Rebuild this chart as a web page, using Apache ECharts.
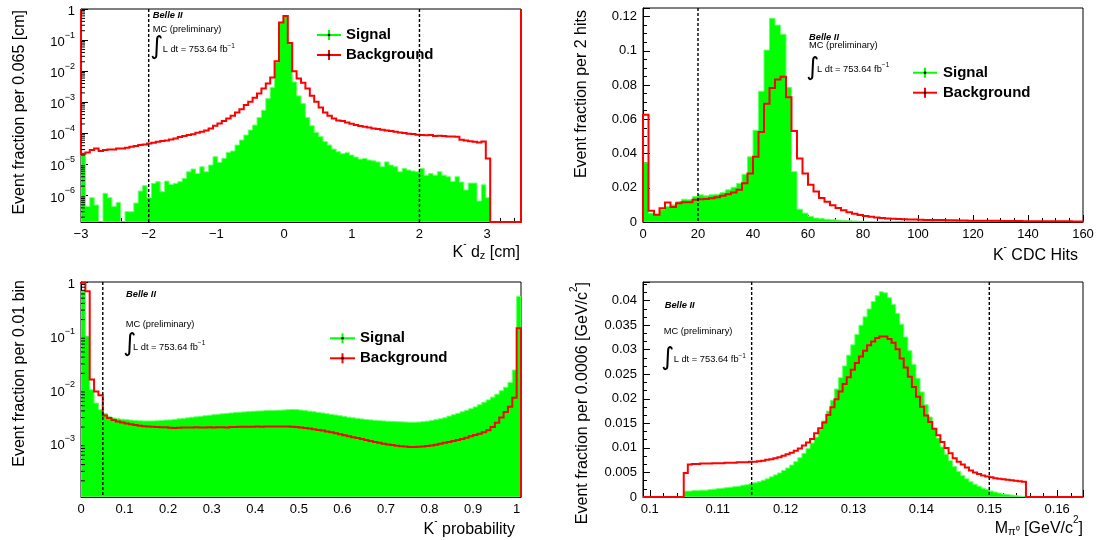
<!DOCTYPE html>
<html><head><meta charset="utf-8">
<script src="https://cdn.jsdelivr.net/npm/echarts@6/dist/echarts.min.js"></script>
<style>html,body{margin:0;padding:0;background:#fff}#c{width:1099px;height:540px}</style>
</head><body><div id="c"></div>
<script>
// ---------------- DATA ----------------
// Panel 1: K- dz, 100 bins of 0.065 cm from -3
const dzStart = -3, dzBinWidth = 0.065;
const dzSignal = [
 2.0e-5, 4.4e-7, 8.5e-7, 4.9e-7, 0, 1.17e-6, 8.5e-7, 4.4e-7, 5.9e-7, 0,
 3.0e-7, 3.0e-7, 5.7e-7, 1.39e-6, 2.06e-6, 8.5e-7, 2.45e-6, 2.77e-6, 1.32e-6, 2.9e-6,
 2.27e-6, 2.45e-6, 2.77e-6, 3.55e-6, 5.8e-6, 7.1e-6, 5.1e-6, 8.4e-6, 5.8e-6, 9.5e-6,
 1.77e-5, 1.16e-5, 1.56e-5, 2.43e-5, 2.69e-5, 4.19e-5, 6.07e-5, 8.8e-5, 1.27e-4, 1.84e-4,
 3.2e-4, 5.5e-4, 1.3e-3, 3.0e-3, 0.019, 0.36, 0.6, 0.075, 4.5e-3, 1.6e-3,
 9e-4, 3.2e-4, 1.75e-4, 1.07e-4, 7.8e-5, 5.4e-5, 4.2e-5, 3.1e-5, 2.55e-5, 2.2e-5,
 2.37e-5, 2.0e-5, 1.72e-5, 1.48e-5, 1.56e-5, 1.38e-5, 1.3e-5, 1.2e-5, 8.4e-6, 1.2e-5,
 9.5e-6, 8.4e-6, 5.8e-6, 7.4e-6, 6.6e-6, 6.1e-6, 5.8e-6, 7.4e-6, 4.5e-6, 5.1e-6,
 4.5e-6, 5.8e-6, 4.5e-6, 4.0e-6, 2.8e-6, 4.0e-6, 2.7e-6, 1.5e-6, 2.5e-6, 2.5e-6,
 6.6e-7, 2.2e-6, 8.5e-7, 0, 0, 0, 0, 0, 0, 0];
const dzBackground = [
 2.2e-5, 2.43e-5, 2.89e-5, 3.27e-5, 2.68e-5, 2.89e-5, 3.03e-5, 3.03e-5, 3.27e-5, 3.27e-5,
 3.43e-5, 3.7e-5, 3.89e-5, 4.19e-5, 4.4e-5, 4.73e-5, 4.97e-5, 5.36e-5, 5.63e-5, 5.9e-5,
 6.37e-5, 6.86e-5, 7.57e-5, 8.15e-5, 8.77e-5, 9.4e-5, 1.04e-4, 1.12e-4, 1.24e-4, 1.44e-4,
 1.75e-4, 2.08e-4, 2.47e-4, 3.01e-4, 3.67e-4, 4.7e-4, 6.0e-4, 8.1e-4, 1.04e-3, 1.39e-3,
 1.92e-3, 2.78e-3, 4.03e-3, 6.3e-3, 0.021, 0.37, 0.59, 0.08, 0.01, 5.8e-3,
 4.2e-3, 2.78e-3, 1.61e-3, 1.03e-3, 6.8e-4, 4.7e-4, 3.67e-4, 3.0e-4, 2.6e-4, 2.47e-4,
 2.24e-4, 2.03e-4, 1.84e-4, 1.71e-4, 1.63e-4, 1.55e-4, 1.44e-4, 1.37e-4, 1.30e-4, 1.24e-4,
 1.18e-4, 1.12e-4, 1.07e-4, 1.02e-4, 9.7e-5, 9.5e-5, 9.0e-5, 8.8e-5, 8.6e-5, 8.8e-5,
 8.15e-5, 8.3e-5, 8.15e-5, 7.95e-5, 7.95e-5, 7.75e-5, 6.2e-5, 5.9e-5, 5.6e-5, 5.4e-5,
 5.1e-5, 5.5e-5, 1.56e-5, 0, 0, 0, 0, 0, 0, 0];
const dzCuts = [-2, 2];

// Panel 2: K- CDC hits, 80 bins of 2 hits from 0
const cdcStart = 0, cdcBinWidth = 2;
const cdcSignal = [
 0.0346, 0.0052, 0.0043, 0.0072, 0.0091, 0.0100, 0.0120, 0.0133, 0.0130, 0.0149,
 0.0159, 0.0153, 0.0159, 0.0162, 0.0172, 0.0188, 0.0203, 0.0226, 0.0279, 0.0381,
 0.0536, 0.0764, 0.1004, 0.1190, 0.1150, 0.1097, 0.0787, 0.0294, 0.0075, 0.0052,
 0.0033, 0.0023, 0.0019, 0.0016, 0.0013, 0.0011, 0.0009, 0.0008, 0.0006, 0.0005,
 0.0004, 0.0003, 0.00025, 0.0002, 0.00015, 0.00012, 0.0001, 0.00008, 0.00006, 0.00005,
 0.00004, 0.00003, 0.00003, 0.00002, 0.00002, 0.00002, 0.00001, 0.00001, 0.00001, 0.00001,
 0, 0, 0, 0, 0, 0, 0, 0, 0, 0,
 0, 0, 0, 0, 0, 0, 0, 0, 0, 0];
const cdcBackground = [
 0.0627, 0.0066, 0.0043, 0.0081, 0.0114, 0.0087, 0.0110, 0.0116, 0.0116, 0.0130,
 0.0133, 0.0135, 0.0139, 0.0145, 0.0153, 0.0162, 0.0172, 0.0188, 0.0226, 0.0284,
 0.0381, 0.0526, 0.0690, 0.0783, 0.0832, 0.0849, 0.0729, 0.0532, 0.0371, 0.0284,
 0.0217, 0.0178, 0.0140, 0.0118, 0.0098, 0.0082, 0.0068, 0.0057, 0.0048, 0.0041,
 0.0035, 0.0030, 0.0026, 0.0023, 0.0021, 0.0019, 0.0017, 0.0016, 0.0015, 0.0014,
 0.0013, 0.0012, 0.0012, 0.0011, 0.0011, 0.0010, 0.0010, 0.0009, 0.0009, 0.0008,
 0.0008, 0.0008, 0.0007, 0.0007, 0.0007, 0.0006, 0.0006, 0.0006, 0.0006, 0.0005,
 0.0005, 0.0005, 0.0005, 0.0004, 0.0004, 0.0004, 0.0004, 0.0004, 0.0003, 0.0003];
const cdcCuts = [20];

// Panel 3: K- probability, 101 bins of 0.01 from 0
const probStart = 0, probBinWidth = 0.01;
const probSignal = [
 0.68, 0.098, 0.0099, 0.0056, 0.0042, 0.0036, 0.0031, 0.00295, 0.00285, 0.0028,
 0.00275, 0.0027, 0.00265, 0.00262, 0.0026, 0.0026, 0.0026, 0.00262, 0.00265, 0.0027,
 0.00272, 0.00278, 0.00285, 0.0029, 0.00297, 0.00305, 0.0031, 0.00317, 0.00325, 0.00332,
 0.0034, 0.00347, 0.00353, 0.0036, 0.00366, 0.00372, 0.00378, 0.00383, 0.00388, 0.00393,
 0.00397, 0.0040, 0.00405, 0.00408, 0.0041, 0.00412, 0.00415, 0.0042, 0.00425, 0.00422,
 0.00415, 0.00405, 0.00395, 0.00385, 0.00375, 0.00365, 0.00355, 0.00345, 0.00335, 0.00325,
 0.00315, 0.00305, 0.00297, 0.0029, 0.00283, 0.00277, 0.00272, 0.00267, 0.00263, 0.0026,
 0.00257, 0.00255, 0.00252, 0.0025, 0.00248, 0.00247, 0.00247, 0.00248, 0.00252, 0.00258,
 0.00265, 0.00275, 0.00285, 0.00297, 0.0032, 0.0034, 0.0036, 0.00385, 0.0041, 0.0044,
 0.00475, 0.0052, 0.0058, 0.0064, 0.0072, 0.0082, 0.0095, 0.011, 0.0135, 0.023,
 0.54];
const probBackground = [
 0.97, 0.67, 0.0153, 0.0092, 0.0078, 0.0033, 0.00295, 0.0027, 0.00255, 0.00242,
 0.00232, 0.00225, 0.00218, 0.00212, 0.00208, 0.00205, 0.00202, 0.0020, 0.00198, 0.00198,
 0.00195, 0.00193, 0.00195, 0.00197, 0.00196, 0.00197, 0.00198, 0.00197, 0.00196, 0.00198,
 0.00197, 0.00199, 0.00198, 0.00197, 0.0020, 0.00201, 0.00202, 0.00203, 0.00202, 0.00203,
 0.00204, 0.00203, 0.00204, 0.00205, 0.00206, 0.00206, 0.00205, 0.00205, 0.00203, 0.0020,
 0.00197, 0.00193, 0.00188, 0.00183, 0.00177, 0.00172, 0.00166, 0.0016, 0.00153, 0.00147,
 0.00141, 0.00135, 0.0013, 0.00125, 0.0012, 0.00115, 0.0011, 0.00106, 0.00102, 0.00098,
 0.00095, 0.00093, 0.0009, 0.00088, 0.00087, 0.00085, 0.00085, 0.00086, 0.00087, 0.00089,
 0.00091, 0.00094, 0.00098, 0.00102, 0.00106, 0.0011, 0.00115, 0.0012, 0.00127, 0.00135,
 0.00142, 0.0015, 0.0016, 0.00175, 0.0020, 0.0024, 0.0030, 0.0038, 0.0048, 0.0070,
 0.138];
const probCuts = [0.05];

// Panel 4: M(pi0), 108 bins of 0.0006 GeV/c^2 from 0.099
const mpiStart = 0.099, mpiBinWidth = 0.0006;
const mpiSignal = [
 0, 0, 0, 0, 0, 0, 0, 0, 0, 0,
 0.0012, 0.0012, 0.0013, 0.0013, 0.0014, 0.0014, 0.0015, 0.0016, 0.0017, 0.0018,
 0.0019, 0.0020, 0.0021, 0.0022, 0.0024, 0.0025, 0.0027, 0.0029, 0.0031, 0.0034,
 0.0037, 0.0041, 0.0045, 0.0049, 0.0054, 0.0059, 0.0065, 0.0072, 0.0080, 0.0089,
 0.0099, 0.0110, 0.0122, 0.0137, 0.0155, 0.0175, 0.0197, 0.0220, 0.0243, 0.0267,
 0.0289, 0.0310, 0.0331, 0.0350, 0.0367, 0.0383, 0.0398, 0.0410, 0.0418, 0.0416,
 0.0406, 0.0392, 0.0374, 0.0352, 0.0326, 0.0298, 0.0270, 0.0242, 0.0214, 0.0188,
 0.0163, 0.0140, 0.0120, 0.0102, 0.0087, 0.0074, 0.0062, 0.0052, 0.0044, 0.0037,
 0.0031, 0.0026, 0.0022, 0.0018, 0.0015, 0.0012, 0.0010, 0.0008, 0.0006, 0.0005,
 0.0004, 0.0003, 0.0002, 0.0001, 0, 0, 0, 0, 0, 0,
 0, 0, 0, 0, 0, 0, 0, 0];
const mpiBackground = [
 0, 0, 0, 0, 0, 0, 0, 0, 0, 0,
 0.0049, 0.0066, 0.0067, 0.0067, 0.0068, 0.0068, 0.0068, 0.0069, 0.0069, 0.0069,
 0.0070, 0.0070, 0.0070, 0.0071, 0.0071, 0.0071, 0.0072, 0.0072, 0.0073, 0.0074,
 0.0076, 0.0077, 0.0079, 0.0081, 0.0084, 0.0087, 0.0090, 0.0094, 0.0099, 0.0105,
 0.0111, 0.0118, 0.0130, 0.0140, 0.0152, 0.0167, 0.0183, 0.0199, 0.0215, 0.0230,
 0.0244, 0.0259, 0.0273, 0.0286, 0.0298, 0.0309, 0.0317, 0.0324, 0.0327, 0.0327,
 0.0322, 0.0314, 0.0301, 0.0282, 0.0264, 0.0245, 0.0224, 0.0204, 0.0184, 0.0166,
 0.0153, 0.0139, 0.0126, 0.0112, 0.0100, 0.0089, 0.0079, 0.0072, 0.0066, 0.0060,
 0.0054, 0.0050, 0.0047, 0.0044, 0.0042, 0.0040, 0.0038, 0.0037, 0.0036, 0.0035,
 0.0034, 0.0033, 0.0032, 0.0031, 0, 0, 0, 0, 0, 0,
 0, 0, 0, 0, 0, 0, 0, 0];
const mpiCuts = [0.115, 0.15];

// ---------------- STYLE / LAYOUT ----------------
const FONT = '"Liberation Sans", Arial, Helvetica, sans-serif';
const GREEN = '#00ff00', GREEN_EDGE = '#6dff6d', RED = '#ff0000';

const chart = echarts.init(document.getElementById('c'), null, {renderer: 'canvas'});

const grids = [
  {left: 81, top: 9, width: 440, height: 213},
  {left: 643, top: 8, width: 440, height: 214},
  {left: 81, top: 282, width: 440, height: 215},
  {left: 643, top: 282, width: 440, height: 215}
].map(g => Object.assign({show: true, borderColor: '#000', borderWidth: 1, backgroundColor: '#fff'}, g));

const tickLine = {color: '#000', width: 1};
function baseAxis(gi) {
  return {
    gridIndex: gi,
    axisLine: {show: true, onZero: false, lineStyle: tickLine},
    axisTick: {show: true, inside: true, length: 7, lineStyle: tickLine},
    splitLine: {show: false},
    minorSplitLine: {show: false}
  };
}
function linX(gi, min, max, interval, minor, extra) {
  return Object.assign(baseAxis(gi), {
    type: 'value', min, max, interval,
    minorTick: {show: true, splitNumber: minor, length: 4, lineStyle: tickLine},
    axisLabel: Object.assign({color: '#000', fontSize: 13, fontFamily: FONT, margin: 6,
      showMinLabel: true, showMaxLabel: false}, extra || {})
  });
}
function linY(gi, min, max, interval, minor) {
  return Object.assign(baseAxis(gi), {
    type: 'value', min, max, interval,
    minorTick: {show: true, splitNumber: minor, length: 4, lineStyle: tickLine},
    axisLabel: {color: '#000', fontSize: 13, fontFamily: FONT, margin: 6, showMaxLabel: false}
  });
}
const powRich = {
  b: {fontSize: 13, fontFamily: FONT, color: '#000', lineHeight: 18, verticalAlign: 'bottom'},
  s: {fontSize: 9, fontFamily: FONT, color: '#000', lineHeight: 9, verticalAlign: 'top'}
};
function logY(gi, min, max) {
  return Object.assign(baseAxis(gi), {
    type: 'log', logBase: 10, min, max,
    minorTick: {show: false},
    axisLabel: {
      margin: 6, showMinLabel: false, showMaxLabel: true, rich: powRich,
      formatter: v => {
        const e = Math.round(Math.log10(v));
        return e === 0 ? '{b|1}' : '{b|10}{s|\u2212' + (-e) + '}';
      }
    }
  });
}

const xAxes = [
  linX(0, -3, 3.5, 1, 5, {formatter: v => v < 0 ? '\u2212' + (-v) : String(v)}),
  linX(1, 0, 160, 20, 4, {showMaxLabel: true}),
  linX(2, 0, 1.01, 0.1, 3),
  linX(3, 0.099, 0.1638, undefined, 5, {showMinLabel: false})
];
const yAxes = [
  logY(0, 1.4e-7, 1),
  linY(1, 0, 0.125, 0.02, 4),
  logY(2, 1e-4, 1),
  linY(3, 0, 0.0438, 0.005, 3)
];

// ---------------- SERIES BUILDERS ----------------
// Build the step-outline points of a histogram through the axis scales.
function stepPoints(api, cs, start, width, values, yRef, fromTop, toTop) {
  const top = cs.y, bottom = cs.y + cs.height;
  const end = start + values.length * width;
  const yOf = v => v > 0 ? Math.max(top, Math.min(bottom, api.coord([start, v])[1])) : bottom;
  const xOf = x => api.coord([x, yRef])[0];
  const pts = [[xOf(start), fromTop ? top : bottom]];
  values.forEach((v, i) => {
    const y = yOf(v);
    pts.push([xOf(start + i * width), y], [xOf(start + (i + 1) * width), y]);
  });
  pts.push([xOf(end), bottom]);
  if (toTop) pts.push([xOf(end), top]);
  return pts;
}
function fillSeries(gi, start, width, values, yRef) {
  return {
    type: 'custom', xAxisIndex: gi, yAxisIndex: gi, clip: true, silent: true, z: 2,
    encode: {x: 0, y: 1},
    data: [[start, yRef]],
    renderItem(params, api) {
      const pts = stepPoints(api, params.coordSys, start, width, values, yRef, false, false);
      return {type: 'polygon', shape: {points: pts},
              style: {fill: GREEN, stroke: GREEN_EDGE, lineWidth: 1}};
    }
  };
}
function outlineSeries(gi, start, width, values, yRef, fromTop, toTop) {
  return {
    type: 'custom', xAxisIndex: gi, yAxisIndex: gi, clip: false, silent: true, z: 3,
    encode: {x: 0, y: 1},
    data: [[start, yRef]],
    renderItem(params, api) {
      const pts = stepPoints(api, params.coordSys, start, width, values, yRef, fromTop, toTop);
      return {type: 'polyline', shape: {points: pts},
              style: {stroke: RED, lineWidth: 2, fill: null, lineJoin: 'miter'}};
    }
  };
}
function cutSeries(gi, cuts, yRef) {
  return {
    type: 'custom', xAxisIndex: gi, yAxisIndex: gi, silent: true, z: 4,
    encode: {x: 0, y: 1},
    data: cuts.map(c => [c, yRef]),
    renderItem(params, api) {
      const cs = params.coordSys;
      const x = api.coord([api.value(0), yRef])[0];
      return {type: 'line', shape: {x1: x, y1: cs.y, x2: x, y2: cs.y + cs.height},
              style: {stroke: '#000', lineWidth: 1.4, lineDash: [3, 2]}};
    }
  };
}
function logMinorTicks(gi, lo, hi, xRef) {
  const vals = [];
  for (let e = Math.floor(Math.log10(lo)); e < Math.ceil(Math.log10(hi)); e++) {
    for (let m = 2; m <= 9; m++) {
      const v = m * Math.pow(10, e);
      if (v > lo && v < hi) vals.push([xRef, v]);
    }
  }
  return {
    type: 'custom', xAxisIndex: gi, yAxisIndex: gi, silent: true, z: 5,
    encode: {x: 0, y: 1},
    data: vals,
    renderItem(params, api) {
      const cs = params.coordSys;
      const y = api.coord([xRef, api.value(1)])[1];
      return {type: 'line', shape: {x1: cs.x, y1: y, x2: cs.x + 4, y2: y},
              style: {stroke: '#000', lineWidth: 1}};
    }
  };
}

const series = [
  fillSeries(0, dzStart, dzBinWidth, dzSignal, 1),
  outlineSeries(0, dzStart, dzBinWidth, dzBackground, 1, true, true),
  cutSeries(0, dzCuts, 1),
  logMinorTicks(0, 1.4e-7, 1, -3),

  fillSeries(1, cdcStart, cdcBinWidth, cdcSignal, 0),
  outlineSeries(1, cdcStart, cdcBinWidth, cdcBackground, 0, false, false),
  cutSeries(1, cdcCuts, 0),

  fillSeries(2, probStart, probBinWidth, probSignal, 1),
  outlineSeries(2, probStart, probBinWidth, probBackground, 1, true, false),
  cutSeries(2, probCuts, 1),
  logMinorTicks(2, 1e-4, 1, 0),

  fillSeries(3, mpiStart, mpiBinWidth, mpiSignal, 0),
  outlineSeries(3, mpiStart, mpiBinWidth, mpiBackground, 0, false, false),
  cutSeries(3, mpiCuts, 0)
];

// ---------------- TEXT / LEGENDS ----------------
const graphics = [];
function txt(x, y, text, style, extra) {
  graphics.push(Object.assign({type: 'text', x, y, silent: true, z: 100,
    style: Object.assign({text, fill: '#000', fontFamily: FONT, align: 'left', verticalAlign: 'middle'}, style)}, extra || {}));
}
const lumiRich = {
  a: {fontSize: 9.3, fontFamily: FONT, color: '#000', lineHeight: 12, verticalAlign: 'bottom'},
  s: {fontSize: 6.5, fontFamily: FONT, color: '#000', lineHeight: 7, verticalAlign: 'top'}
};
function belle(bx, by, mx, my, ix, iy, lx, ly) {
  txt(bx, by, 'Belle II', {fontSize: 9.3, fontWeight: 'bold', fontStyle: 'italic'});
  txt(mx, my, 'MC (preliminary)', {fontSize: 9.3});
  txt(ix, iy, '\u222B', {fontSize: 25, fontFamily: '"DejaVu Sans", ' + FONT});
  txt(lx, ly, '{a|L dt = 753.64 fb}{s|\u22121}', {rich: lumiRich});
}
belle(152.7, 15.7, 152.7, 29.7, 150, 47, 162.7, 48.3);
belle(809, 37.5, 809, 45.5, 806, 68, 817, 67.5);
belle(126, 294, 125.7, 324, 123, 344.5, 133, 346);
belle(664.7, 305, 663.7, 331.7, 661, 358, 673.7, 358.3);

function legend(x1, x2, xt, y1, y2) {
  [[y1, GREEN, 'Signal'], [y2, RED, 'Background']].forEach(([y, c, t]) => {
    const xc = (x1 + x2) / 2;
    graphics.push({type: 'line', silent: true, z: 100, shape: {x1, y1: y, x2, y2: y}, style: {stroke: c, lineWidth: 2}});
    graphics.push({type: 'line', silent: true, z: 100, shape: {x1: xc, y1: y - 5, x2: xc, y2: y + 5}, style: {stroke: c, lineWidth: 2}});
    graphics.push({type: 'circle', silent: true, z: 101, shape: {cx: xc, cy: y, r: 1.3}, style: {fill: '#000'}});
    txt(xt, y, t, {fontSize: 15, fontWeight: 'bold'});
  });
}
legend(317, 341, 346, 35, 55);
legend(913, 937, 943, 72.7, 92.7);
legend(330, 355, 360, 338.3, 358.3);

const titleRich = {
  a: {fontSize: 16, fontFamily: FONT, color: '#000', lineHeight: 22, verticalAlign: 'bottom'},
  s: {fontSize: 10, fontFamily: FONT, color: '#000', lineHeight: 12, verticalAlign: 'top'},
  u: {fontSize: 11, fontFamily: FONT, color: '#000', lineHeight: 12, verticalAlign: 'bottom'}
};
function yTitle(x, y, text) {
  txt(x, y, text, {rich: titleRich, align: 'right'}, {rotation: Math.PI / 2});
}
function xTitle(x, y, text) {
  txt(x, y, text, {rich: titleRich, align: 'right'});
}
yTitle(17, 10, '{a|Event fraction per 0.065 [cm]}');
yTitle(579, 10, '{a|Event fraction per 2 hits}');
yTitle(17, 280, '{a|Event fraction per 0.01 bin}');
yTitle(580, 282, '{a|Event fraction per 0.0006 [GeV/c}{s|2}{a|]}');
xTitle(520, 250, '{a|K}{s|-}{a| d}{u|z}{a| [cm]}');
xTitle(1078, 253, '{a|K}{s|-}{a| CDC Hits}');
xTitle(515, 527, '{a|K}{s|-}{a| probability}');
xTitle(1083, 526, '{a|M}{u|\u03C0\u2070}{a| [GeV/c}{s|2}{a|]}');

chart.setOption({
  animation: false,
  backgroundColor: '#fff',
  textStyle: {fontFamily: FONT},
  grid: grids,
  xAxis: xAxes,
  yAxis: yAxes,
  series,
  graphic: graphics
});
</script></body></html>
